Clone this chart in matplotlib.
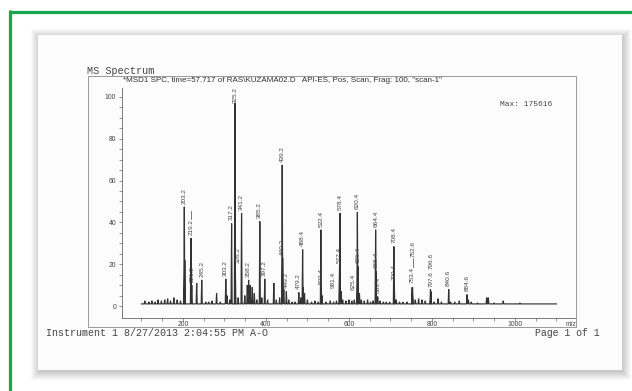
import matplotlib
matplotlib.use("Agg")
import matplotlib.pyplot as plt
from matplotlib.patches import Rectangle
from matplotlib.lines import Line2D
from matplotlib.ticker import FixedLocator

# ---------------- data ----------------
label_mz = [203.2, 219.2, 221.2, 245.2, 303.2, 317.2, 325.2, 326.2, 341.2, 358.2,
            385.2, 397.2, 439.2, 440.2, 449.2, 479.2, 488.4, 532.4, 533.4, 577.4,
            578.4, 581.4, 620.4, 621.4, 625.4, 664.4, 665.4, 669.4, 708.4, 709.4,
            752.6, 753.4, 796.6, 797.6, 840.6, 884.6]
label_int = [47.5, 32.5, 10, 12.5, 13, 39.5, 100, 19, 44.5, 12.5,
             40.5, 13, 67.5, 23, 7, 6.5, 27, 36.5, 9, 19,
             44.5, 7, 45, 19, 6, 36.5, 16.5, 4.5, 28.5, 11,
             9, 9, 8, 7, 8, 5.5]

minor_mz = [108, 118, 125, 133, 140, 148, 156, 163, 170, 178,
            186, 194, 204.2, 233, 255, 262, 270, 281, 290, 306,
            313, 333, 349, 355, 362, 367, 372, 378, 390, 404,
            419, 425, 433, 443, 455, 463, 470, 484, 490, 493,
            500, 510, 518, 526, 535, 545, 555, 563, 570, 585,
            593, 600, 607, 613, 630, 637, 645, 652, 658, 675,
            683, 690, 698, 714, 722, 730, 740, 760, 768, 776,
            784, 805, 815, 823, 845, 855, 866, 888, 895, 910,
            932, 936, 950, 972, 1012, 1040, 1070]
minor_int = [2.5, 2, 2.5, 2, 3, 2.5, 3, 3.5, 2.5, 4,
             3, 2.5, 22, 11, 2, 2, 2.5, 6, 2, 5,
             3, 4, 5, 10, 10, 9, 6, 3, 4, 3,
             11, 3, 4, 8, 3, 2, 2, 4, 9, 6,
             3, 2, 2.5, 2, 5, 2, 2.5, 2, 2.5, 3,
             2.5, 3, 2.5, 3, 3, 2.5, 3, 2, 2.5, 2.5,
             2, 2, 2, 3, 2, 2, 2, 3, 3.5, 3,
             2.5, 2, 3.5, 2, 2, 2, 2.5, 3, 2, 1.5,
             4, 4, 1.5, 2.5, 1.5, 1, 1]

scan_range = [100, 1100]
baseline_level = 1.0

x_ticks_labelled = [200, 400, 600, 800, 1000]
y_ticks_labelled = [0, 20, 40, 60, 80, 100]

title = '*MSD1 SPC, time=57.717 of RAS\\KUZAMA02.D   API-ES, Pos, Scan, Frag: 100, "scan-1"'
header = "MS Spectrum"
max_text = "Max: 175616"
footer_left = "Instrument 1 8/27/2013 2:04:55 PM A-O"
footer_right = "Page 1 of 1"
x_unit = "m/z"

# ---------------- label layout (placement only) ----------------
LABEL_GAP = 1.5
label_shift = {326.2: 6, 581.4: -19, 625.4: -15, 752.6: 1.5, 796.6: 1.0}
label_bottom = {325.2: 97.3, 753.4: 11.0, 752.6: 23.5, 797.6: 9.0, 796.6: 17.5}
leaders = {753.4: (18.6, 23.1), 219.2: (41.6, 45.5)}

# ---------------- figure ----------------
W, H = 632, 391
fig = plt.figure(figsize=(W / 100, H / 100), dpi=100)
fig.patch.set_facecolor("white")
PAPER = "#fcfcfc"

def fx(px):
    return px / W

def fy(py):
    return 1 - py / H

def frect(x0, y0, x1, y1, **kw):
    r = Rectangle((fx(x0), fy(y1)), fx(x1) - fx(x0), fy(y0) - fy(y1),
                  transform=fig.transFigure, **kw)
    fig.add_artist(r)
    return r

# paper shadow
for i in range(9):
    frect(38 - i + 1, 35 - i + 2, 622 + i + 1, 370 + i + 2,
          facecolor="black", alpha=0.024, lw=0, zorder=0.1)
frect(38, 35, 622, 370, facecolor=PAPER, lw=0, zorder=0.2)

# green page border (left and top)
GREEN = "#13a84b"
fig.add_artist(Line2D([fx(9), fx(632)], [fy(11.5), fy(11.5)], transform=fig.transFigure,
                      color=GREEN, lw=2.3, solid_capstyle="butt", zorder=0.3))
fig.add_artist(Line2D([fx(10.5), fx(10.5)], [fy(10), fy(391)], transform=fig.transFigure,
                      color=GREEN, lw=2.3, solid_capstyle="butt", zorder=0.3))

# plot frame box
frect(88, 76, 576, 327, facecolor="none", edgecolor="#8a8a8a", lw=0.6, zorder=0.4)

TXT = "#444444"
LINE = "#333333"

# ---------------- axes ----------------
ax = fig.add_axes([fx(122), fy(318), fx(575) - fx(122), fy(88) - fy(318)], zorder=5)
ax.set_facecolor("none")
ax.set_xlim(53, 1145)
ax.set_ylim(-5.74, 104.3)
for s in ("top", "right"):
    ax.spines[s].set_visible(False)
for s in ("left", "bottom"):
    ax.spines[s].set_color("#666666")
    ax.spines[s].set_linewidth(0.6)

ax.xaxis.set_major_locator(FixedLocator(x_ticks_labelled))
ax.xaxis.set_minor_locator(FixedLocator([v for v in range(100, 1101, 50)
                                         if v not in x_ticks_labelled]))
ax.yaxis.set_major_locator(FixedLocator(y_ticks_labelled))
ax.yaxis.set_minor_locator(FixedLocator([v for v in range(0, 101, 5)
                                         if v not in y_ticks_labelled]))
ax.tick_params(which="both", direction="out", length=1.9, width=0.5, color="#666666")
ax.tick_params(axis="x", which="major", labelsize=4.9, pad=0.6, labelcolor=TXT)
ax.tick_params(axis="y", which="major", labelsize=4.9, pad=2.4, labelcolor=TXT)
for lab in ax.get_xticklabels() + ax.get_yticklabels():
    lab.set_family("Liberation Sans")

# spectrum trace built from the peak table
peaks = sorted(list(zip(label_mz, label_int)) + list(zip(minor_mz, minor_int)))
xs = [scan_range[0]]
ys = [baseline_level]
HALF = 1.3
for m, h in peaks:
    xs += [m - HALF, m, m + HALF]
    ys += [baseline_level, h, baseline_level]
xs.append(scan_range[1])
ys.append(baseline_level)
ax.plot(xs, ys, color=LINE, lw=0.85, solid_joinstyle="miter", zorder=2)

# peak labels
for m, h in zip(label_mz, label_int):
    x = m + label_shift.get(m, 0)
    yb = label_bottom.get(m, h + LABEL_GAP)
    kw = {}
    if m in label_bottom and yb < h:
        kw["bbox"] = dict(facecolor=PAPER, edgecolor="none", pad=0.3)
    ax.text(x, yb, f"{m:.1f}", rotation=90, ha="center", va="bottom",
            fontsize=4.6, family="Liberation Sans", color=TXT, zorder=3, **kw)
for m, (y0, y1) in leaders.items():
    ax.plot([m, m], [y0, y1], color=TXT, lw=0.5)

# ---------------- texts ----------------
fig.text(fx(576), fy(327.5), x_unit, ha="right", va="bottom", fontsize=4.9,
         family="Liberation Sans", color=TXT, zorder=6)
fig.text(fx(87), fy(71), header, ha="left", va="center", fontsize=7.3,
         family="Liberation Mono", color=TXT, zorder=6)
t = fig.text(fx(123), fy(80.5), title, ha="left", va="center", fontsize=5.4,
             family="Liberation Sans", color="#333333", zorder=6)
fig.text(fx(500), fy(105), max_text, ha="left", va="center", fontsize=5.7,
         family="Liberation Mono", color=TXT, zorder=6)
fig.text(fx(46), fy(333), footer_left, ha="left", va="center", fontsize=7.2,
         family="Liberation Mono", color=TXT, zorder=6)
fig.text(fx(535), fy(333.5), footer_right, ha="left", va="center", fontsize=7.1,
         family="Liberation Mono", color=TXT, zorder=6)

fig.canvas.draw()
bb = t.get_window_extent()
t.set_fontsize(5.4 * 320 / bb.width)

fig.savefig("out.png", dpi=100, facecolor=fig.get_facecolor())
